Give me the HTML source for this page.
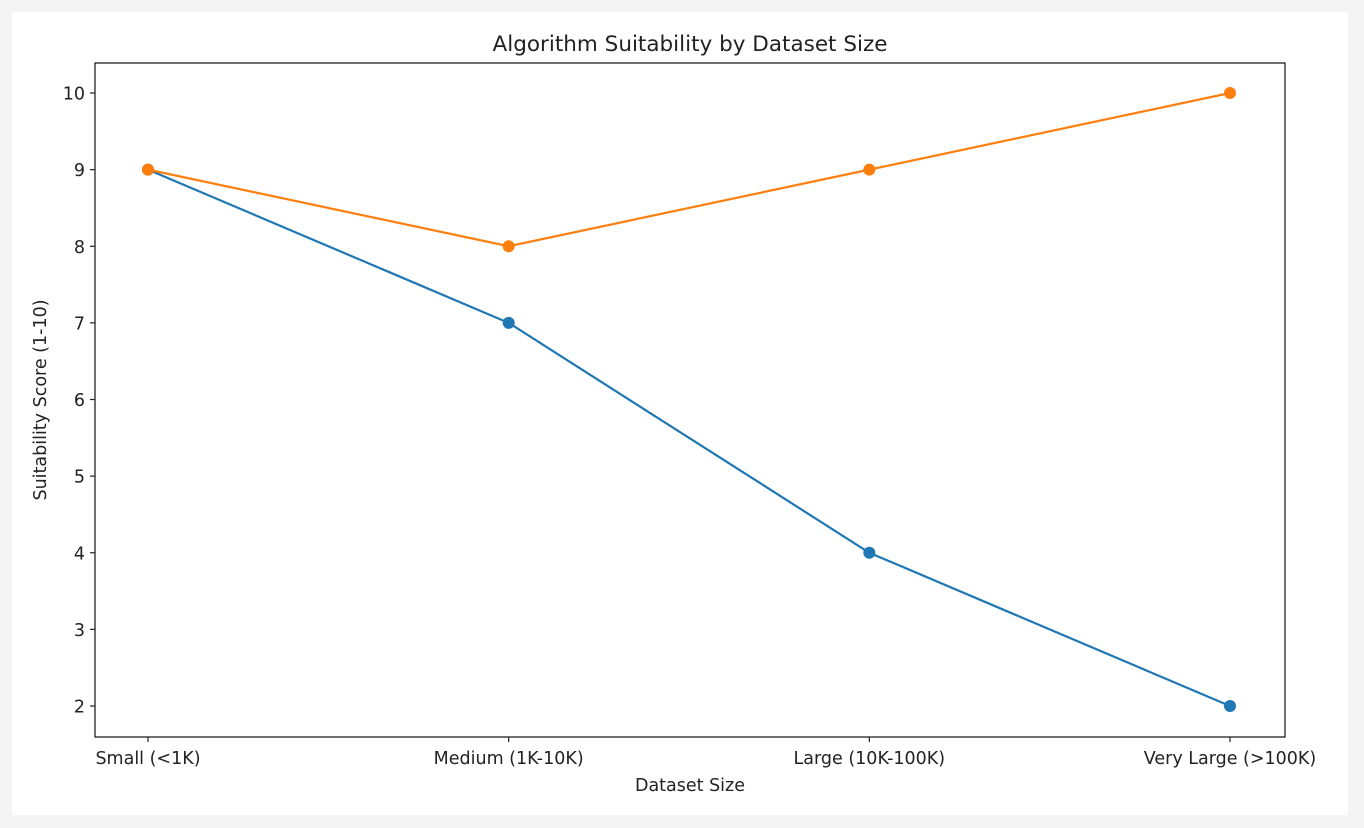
<!DOCTYPE html>
<html><head><meta charset="utf-8"><style>
body{margin:0;width:1364px;height:828px;background:#f4f4f4;overflow:hidden;font-family:"DejaVu Sans","Liberation Sans",sans-serif}
#panel{position:absolute;left:12px;top:12px;width:1336px;height:803px;background:#fff}
svg{position:absolute;left:0;top:0}
text{font-family:"DejaVu Sans","Liberation Sans",sans-serif;fill:#222}
</style></head><body>
<div id="panel"></div>
<svg id="chart" width="1364" height="828"></svg>
<script>
const categories=["Small (<1K)","Medium (1K-10K)","Large (10K-100K)","Very Large (>100K)"];
const seriesBlue=[9,7,4,2];
const seriesOrange=[9,8,9,10];
const yTicks=[2,3,4,5,6,7,8,9,10];
const L=95,R=1285,T=63,B=737;
const xs=i=>148+i*(1230-148)/(categories.length-1);
const ys=v=>706-(v-2)*(706-93)/8;
const svg=document.getElementById('chart');
const NS='http://www.w3.org/2000/svg';
function mk(tag,attrs,parent){const e=document.createElementNS(NS,tag);for(const k in attrs)e.setAttribute(k,attrs[k]);(parent||svg).appendChild(e);return e;}
const t=mk('text',{x:690,y:51,'text-anchor':'middle','font-size':21.5});t.textContent='Algorithm Suitability by Dataset Size';


yTicks.forEach(v=>{
  const l=mk('line',{x1:L-5,x2:L,y1:ys(v),y2:ys(v),stroke:'#222','stroke-width':1.2});
  
  
  const tx=mk('text',{x:L-10,y:ys(v)+6.5,'text-anchor':'end','font-size':17.5});tx.textContent=v;
  
  
});
categories.forEach((c,i)=>{
  const l=mk('line',{x1:xs(i),x2:xs(i),y1:B,y2:B+5,stroke:'#222','stroke-width':1.2});
  
  
  const tx=mk('text',{x:xs(i),y:764,'text-anchor':'middle','font-size':17.5});tx.textContent=c;
  
  
});
const xl=mk('text',{x:690,y:791,'text-anchor':'middle','font-size':17.5});xl.textContent='Dataset Size';


const yl=mk('text',{x:0,y:0,'text-anchor':'middle','font-size':17.5,transform:'translate(46,400) rotate(-90)'});yl.textContent='Suitability Score (1-10)';


function series(vals,color,name){
  const p=mk('polyline',{points:vals.map((v,i)=>xs(i)+','+ys(v)).join(' '),fill:'none',stroke:color,'stroke-width':2.2});
  
  
  vals.forEach((v,i)=>{
    const c=mk('circle',{cx:xs(i),cy:ys(v),r:6,fill:color});
    
    
  });
}
series(seriesBlue,'#1f77b4','blue-series');
series(seriesOrange,'#ff7f0e','orange-series');
const box=mk('rect',{x:L,y:T,width:R-L,height:B-T,fill:'none',stroke:'#222','stroke-width':1.3});


</script>
</body></html>
